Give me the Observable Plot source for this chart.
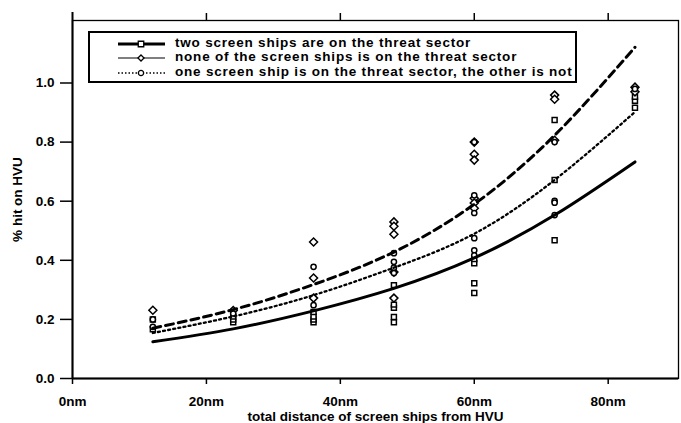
<!DOCTYPE html>
<html><head>
<meta charset="utf-8">
<script src="https://cdn.jsdelivr.net/npm/d3@7"></script>
<script src="https://cdn.jsdelivr.net/npm/@observablehq/plot@0.6"></script>
<style>
body{margin:0;background:#fff;}
#wrap{position:relative;width:681px;height:423px;font-family:"Liberation Sans",Arial,sans-serif;font-weight:bold;color:#000;}
#legend{position:absolute;left:88px;top:31px;width:489px;height:52px;border:2px solid #000;box-sizing:border-box;background:#fff;}
.row{position:absolute;left:0;height:14px;}
.row svg{position:absolute;left:27px;top:0;}
.row span{position:absolute;left:85px;top:-1px;white-space:nowrap;font-size:13.5px;letter-spacing:0.8px;line-height:14px;}
</style>
</head><body><div id="wrap"><div id="plot"></div><div id="legend"></div></div>
<script>
// ---- data ----
const distances = [12, 24, 36, 48, 60, 72, 84];
const fitTwo  = [0.124, 0.168, 0.229, 0.305, 0.408, 0.553, 0.733]; // two screen ships on threat sector
const fitNone = [0.170, 0.233, 0.318, 0.428, 0.590, 0.823, 1.121]; // none on threat sector
const fitOne  = [0.154, 0.210, 0.282, 0.375, 0.490, 0.672, 0.902]; // one on threat sector

const twoX  = [12, 12, 24, 24, 24, 36, 36, 36, 36, 48, 48, 48, 48, 48, 60, 60, 60, 60, 72, 72, 72, 84, 84, 84];
const twoY  = [0.167, 0.20, 0.19, 0.20, 0.21, 0.19, 0.20, 0.21, 0.225, 0.19, 0.208, 0.239, 0.25, 0.316, 0.289, 0.322, 0.39, 0.404, 0.468, 0.672, 0.875, 0.916, 0.94, 0.953];
const noneX = [12, 24, 36, 36, 36, 48, 48, 48, 48, 48, 60, 60, 60, 60, 60, 60, 72, 72, 72, 84, 84];
const noneY = [0.231, 0.23, 0.462, 0.34, 0.272, 0.53, 0.515, 0.488, 0.36, 0.272, 0.80, 0.759, 0.739, 0.61, 0.594, 0.576, 0.959, 0.945, 0.806, 0.986, 0.97];
const oneX  = [12, 12, 24, 36, 36, 48, 48, 48, 48, 60, 60, 60, 60, 60, 60, 72, 72, 72, 72, 84];
const oneY  = [0.20, 0.175, 0.22, 0.378, 0.248, 0.424, 0.395, 0.375, 0.357, 0.80, 0.62, 0.56, 0.475, 0.434, 0.417, 0.80, 0.601, 0.595, 0.553, 0.98];

const xTicks = [0, 20, 40, 60, 80];
const yTicks = [0, 0.2, 0.4, 0.6, 0.8, 1.0];
const legendLabels = [
  "two screen ships are on the threat sector",
  "none of the screen ships is on the threat sector",
  "one screen ship is on the threat sector, the other is not"
];

// ---- tables ----
const fit = (ys) => distances.map((d, i) => ({x: d, y: ys[i]}));
const pts = (xs, ys) => xs.map((d, i) => ({x: d, y: ys[i]}));

const chart = Plot.plot({
  width: 681, height: 423,
  marginLeft: 72, marginRight: 3, marginTop: 20, marginBottom: 45,
  x: {domain: [0, 90.5]},
  y: {domain: [0, 1.2115]},
  style: {fontFamily: '"Liberation Sans", Arial, sans-serif', fontWeight: "bold", fontSize: "13.5px", color: "#000", background: "#fff"},
  marks: [
    Plot.frame({stroke: "#000", strokeWidth: 1.3}),
    Plot.ruleX([0], {stroke: "#000", strokeWidth: 2, insetTop: -8}),
    Plot.ruleY([0], {stroke: "#000", strokeWidth: 2.2}),
    Plot.axisX(xTicks, {anchor: "bottom", tickSize: 6, tickPadding: 12, strokeWidth: 1.5,
      tickFormat: d => d + "nm", fontSize: 13.5, letterSpacing: 1.2,
      label: "total distance of screen ships from HVU", labelAnchor: "center", labelArrow: false, labelOffset: 42}),
    Plot.axisX([20, 40, 60, 80], {anchor: "top", tickSize: 8, strokeWidth: 1.5, tickFormat: () => "", label: null}),
    Plot.axisY(yTicks, {anchor: "left", tickSize: 12, tickPadding: 6, strokeWidth: 1.5,
      tickFormat: d3.format(".1f"), fontSize: 13.5, letterSpacing: 1.2,
      label: "% hit on HVU", labelAnchor: "center", labelArrow: false, labelOffset: 60}),
    Plot.dot(pts(twoX, twoY), {x: "x", y: "y", symbol: "square", r: 2.8, stroke: "#000", fill: "#fff", strokeWidth: 1.5}),
    Plot.dot(pts(noneX, noneY), {x: "x", y: "y", symbol: "diamond2", r: 3.6, stroke: "#000", fill: "#fff", strokeWidth: 1.5}),
    Plot.dot(pts(oneX, oneY), {x: "x", y: "y", symbol: "circle", r: 2.6, stroke: "#000", fill: "#fff", strokeWidth: 1.5}),
    Plot.line(fit(fitTwo), {x: "x", y: "y", curve: "natural", stroke: "#000", strokeWidth: 3}),
    Plot.line(fit(fitNone), {x: "x", y: "y", curve: "natural", stroke: "#000", strokeWidth: 3, strokeDasharray: "8,5"}),
    Plot.line(fit(fitOne), {x: "x", y: "y", curve: "natural", stroke: "#000", strokeWidth: 2.3, strokeDasharray: "2,3.2"})
  ]
});
document.getElementById("plot").appendChild(chart);

// ---- legend (overlay inside the plot frame) ----
const samples = [
  {w: 3.2, dash: null, sym: d3.symbolSquare, size: 30},
  {w: 1.2, dash: null, sym: d3.symbolDiamond2, size: 24},
  {w: 1.6, dash: "1.5,2", sym: d3.symbolCircle, size: 22}
];
const legend = document.getElementById("legend");
legendLabels.forEach((lab, i) => {
  const row = document.createElement("div");
  row.className = "row";
  row.style.top = (3.5 + i * 14.5) + "px";
  const s = samples[i];
  const sym = d3.symbol(s.sym, s.size)();
  row.innerHTML =
    `<svg width="50" height="14"><line x1="1" x2="48" y1="7" y2="7" stroke="#000" stroke-width="${s.w}" ${s.dash ? `stroke-dasharray="${s.dash}"` : ""}/>` +
    `<path d="${sym}" transform="translate(24,7)" fill="#fff" stroke="#000" stroke-width="1.3"/></svg>` +
    `<span>${lab}</span>`;
  legend.appendChild(row);
});
</script>
</body></html>
